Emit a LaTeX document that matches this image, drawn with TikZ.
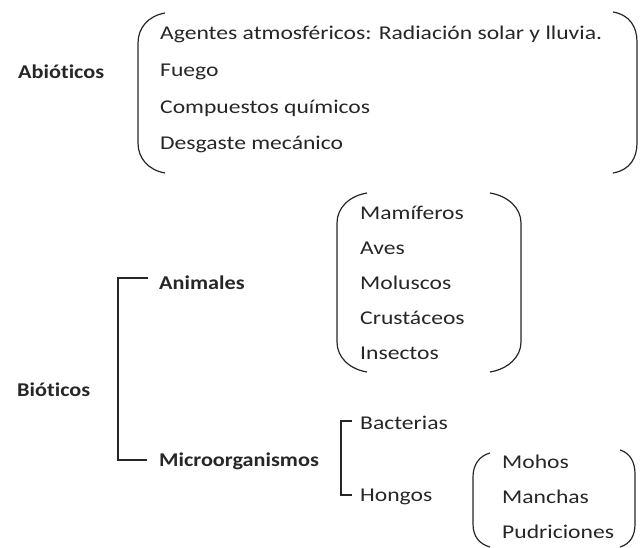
\documentclass[tikz,border=0pt]{standalone}
\usepackage{fontspec}
\setmainfont{Carlito}[FakeStretch=1.21,Ligatures=NoCommon,BoldFeatures={FakeStretch=1.14}]
\begin{document}
\begin{tikzpicture}[x=1pt,y=-1pt,
  txt/.style={anchor=west,inner sep=0pt,text height=12.6pt,text depth=0pt,font=\fontsize{19.5}{23}\selectfont,text=black!85},
  bld/.style={txt,font=\fontsize{19.5}{23}\selectfont\bfseries},
  ln/.style={draw=black!85,line width=1.2pt}]
\useasboundingbox (0,0) rectangle (642,548);
% Abioticos
\node[bld] (abio) at (18,72) {Abióticos};
\node[txt] (ag) at (160,33) {Agentes atmosféricos: Radiación solar y lluvia.};
\node[txt] (fu) at (160,70) {Fuego};
\node[txt] (co) at (160,107) {Compuestos químicos};
\node[txt] (de) at (160,143) {Desgaste mecánico};
\draw[ln] (165,13) .. controls (148,16) and (138,28) .. (138,43) -- (138,143) .. controls (138,158) and (148,170) .. (165,173);
\draw[ln] (613,12) .. controls (630,15) and (637,27) .. (637,42) -- (637,143) .. controls (637,158) and (630,170) .. (613,173);
% Bioticos
\node[bld] (bio) at (17,390) {Bióticos};
\node[bld] (ani) at (159,283) {Animales};
\node[bld] (mic) at (159,460) {Microorganismos};
\coordinate (a1) at (148,278);
\coordinate (m1) at (147,460);
\draw[ln] (a1) -- ++(-30,0) |- (m1);
% Animales list
\node[txt] (ma) at (360,213) {Mamíferos};
\node[txt] (av) at (360,248) {Aves};
\node[txt] (mo) at (360,283) {Moluscos};
\node[txt] (cr) at (360,318) {Crustáceos};
\node[txt] (in) at (360,353) {Insectos};
\draw[ln] (367,193) .. controls (349,196) and (337,208) .. (337,223) -- (337,342) .. controls (337,357) and (349,369) .. (367,372);
\draw[ln] (490,193) .. controls (508,196) and (521,208) .. (521,223) -- (521,342) .. controls (521,357) and (508,369) .. (490,372);
% Microorganismos
\node[txt] (ba) at (360,423) {Bacterias};
\node[txt] (ho) at (360,495) {Hongos};
\coordinate (b1) at (352,421);
\coordinate (h1) at (352,495);
\draw[ln] (b1) -- ++(-11,0) |- (h1);
\node[txt] (mh) at (502,462) {Mohos};
\node[txt] (mn) at (502,497) {Manchas};
\node[txt] (pu) at (502,532) {Pudriciones};
\draw[ln] (490,453) .. controls (479,456) and (473,465) .. (473,477) -- (473,524) .. controls (473,536) and (479,544) .. (490,547);
\draw[ln] (620,450) .. controls (630,453) and (635,462) .. (635,474) -- (635,524) .. controls (635,536) and (630,544) .. (620,547);
\end{tikzpicture}
\end{document}
